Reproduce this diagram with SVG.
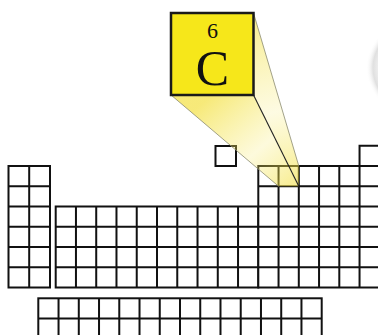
<svg xmlns="http://www.w3.org/2000/svg" width="378" height="335" viewBox="0 0 378 335">
<defs>
<style>
.grid{fill:#fff;stroke:#111;stroke-width:2}
.gl{fill:none;stroke:#111;stroke-width:2}
.edge{fill:none;stroke:#8a8a70;stroke-width:0.8}
.dark{fill:none;stroke:#222;stroke-width:1.1}
.lbl{font-family:"Liberation Serif","Times New Roman",serif;fill:#111;text-anchor:middle}
</style>
<linearGradient id="cone" gradientUnits="userSpaceOnUse" x1="212" y1="95" x2="290" y2="186">
<stop offset="0" stop-color="#f3e040" stop-opacity="0.7"/>
<stop offset="0.6" stop-color="#f6e860" stop-opacity="0.22"/>
<stop offset="1" stop-color="#f3e040" stop-opacity="0.55"/>
</linearGradient>
<linearGradient id="cone2" gradientUnits="userSpaceOnUse" x1="253" y1="13" x2="298" y2="176">
<stop offset="0" stop-color="#f3e040" stop-opacity="0.6"/>
<stop offset="0.6" stop-color="#f6e860" stop-opacity="0.18"/>
<stop offset="1" stop-color="#f3e040" stop-opacity="0.55"/>
</linearGradient>
<radialGradient id="lens" cx="0.5" cy="0.5" r="0.5">
<stop offset="0" stop-color="#ffffff"/>
<stop offset="0.78" stop-color="#f6f6f6"/>
<stop offset="0.9" stop-color="#e0e0e0"/>
<stop offset="1" stop-color="#ffffff" stop-opacity="0"/>
</radialGradient>
</defs>
<rect x="0" y="0" width="378" height="335" fill="#fff"/>
<ellipse cx="436" cy="68" rx="70" ry="56" fill="url(#lens)"/>

<g id="s-block">
<rect class="grid" x="8.5" y="166" width="41.5" height="121.5"/>
<path class="gl" d="M29.2 166V287.5M8.5 186.25H50M8.5 206.5H50M8.5 226.75H50M8.5 247H50M8.5 267.25H50"/>
</g>
<g id="hydrogen">
<rect class="grid" x="215.5" y="146" width="20.5" height="20"/>
</g>
<g id="d-block">
<rect class="grid" x="55.7" y="206.5" width="202.6" height="81"/>
<path class="gl" d="M75.96 206.5V287.5M96.22 206.5V287.5M116.48 206.5V287.5M136.74 206.5V287.5M157 206.5V287.5M177.26 206.5V287.5M197.52 206.5V287.5M217.78 206.5V287.5M238.04 206.5V287.5M55.7 226.75H258.3M55.7 247H258.3M55.7 267.25H258.3"/>
</g>
<g id="p-block">
<rect class="grid" x="258.3" y="166" width="121.5" height="121.5"/>
<rect class="grid" x="359.55" y="145.75" width="20.25" height="20.25"/>
<path class="gl" d="M278.55 166V287.5M298.8 166V287.5M319.05 166V287.5M339.3 166V287.5M359.55 166V287.5M258.3 186.25H379.8M258.3 206.5H379.8M258.3 226.75H379.8M258.3 247H379.8M258.3 267.25H379.8"/>
</g>
<g id="f-block">
<rect class="grid" x="38.3" y="298.3" width="283.4" height="60"/>
<path class="gl" d="M58.54 298.3V340M78.79 298.3V340M99.03 298.3V340M119.27 298.3V340M139.52 298.3V340M159.76 298.3V340M180 298.3V340M200.24 298.3V340M220.49 298.3V340M240.73 298.3V340M260.97 298.3V340M281.22 298.3V340M301.46 298.3V340M38.3 318.55H321.7"/>
</g>

<g id="connectors">
<polygon points="171,95 253.5,95 298.8,186.25 278.55,186.25" fill="url(#cone)"/>
<polygon points="253.5,13 253.5,95 298.8,186.25 298.8,166" fill="url(#cone2)"/>
<line class="edge" x1="171" y1="95" x2="278.55" y2="186.25"/>
<line class="edge" x1="253.5" y1="13" x2="298.8" y2="166"/>
<line class="dark" x1="253.5" y1="95" x2="298.8" y2="186.25"/>
</g>

<g id="carbon">
<rect x="171" y="13" width="82.5" height="82" fill="#f6e71a" stroke="#1a1a1a" stroke-width="2.5"/>
<text class="lbl" x="212.5" y="37.5" font-size="22">6</text>
<text class="lbl" x="212.5" y="85" font-size="50">C</text>
</g>
</svg>
